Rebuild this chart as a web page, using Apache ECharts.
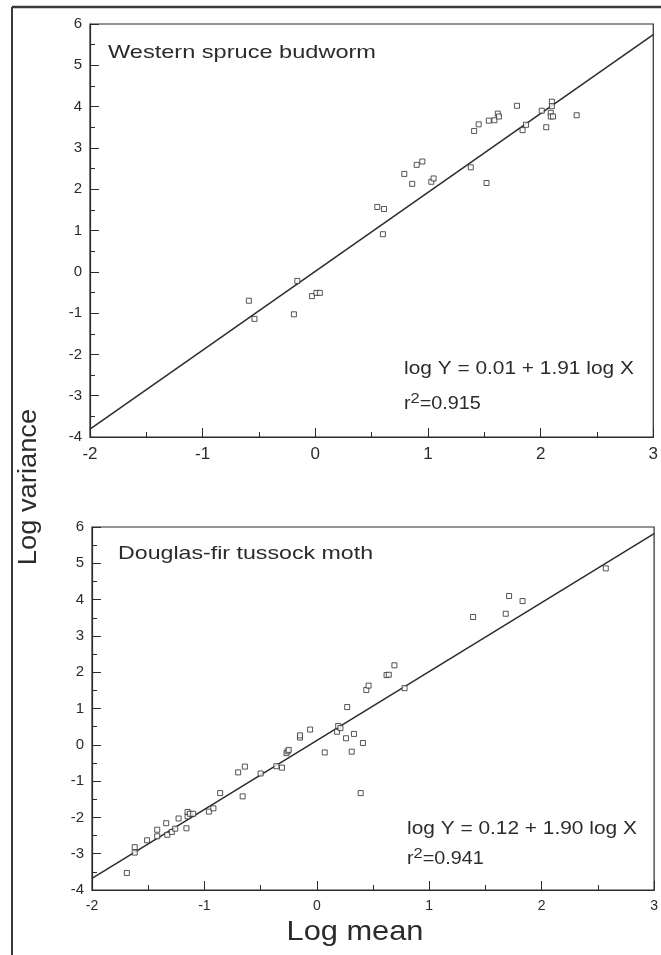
<!DOCTYPE html>
<html>
<head>
<meta charset="utf-8">
<script src="https://cdn.jsdelivr.net/npm/echarts@6/dist/echarts.min.js"></script>
<style>
  html, body {margin: 0; padding: 0; background: #fff;}
  #chart {width: 661px; height: 955px;}
</style>
</head>
<body>
<div id="chart"></div>
<script>
// western spruce budworm (top panel)
const budwormX = [-0.59, -0.54, -0.19, -0.16, -0.03, 0.01, 0.04, 0.55, 0.61, 0.60, 0.79, 0.86, 0.90, 0.95, 1.03, 1.05,
  1.38, 1.41, 1.45, 1.52, 1.54, 1.59, 1.62, 1.63, 1.79, 1.84, 1.87, 2.01, 2.05, 2.10, 2.10, 2.09, 2.09, 2.11, 2.32];
const budwormY = [-0.70, -1.14, -1.03, -0.22, -0.59, -0.51, -0.51, 1.57, 1.52, 0.91, 2.37, 2.13, 2.59, 2.67, 2.18, 2.26,
  2.53, 3.41, 3.57, 2.15, 3.66, 3.67, 3.83, 3.76, 4.02, 3.43, 3.56, 3.90, 3.50, 4.12, 4.01, 3.85, 3.76, 3.76, 3.79];

// douglas-fir tussock moth (bottom panel)
const mothX = [-1.69, -1.62, -1.62, -1.51, -1.42, -1.42, -1.34, -1.33, -1.29, -1.26, -1.23, -1.16, -1.15, -1.15, -1.13,
  -1.10, -0.96, -0.92, -0.86, -0.70, -0.66, -0.64, -0.50, -0.36, -0.31, -0.27, -0.26, -0.25, -0.15, -0.15, -0.06, 0.07,
  0.18, 0.19, 0.21, 0.26, 0.27, 0.31, 0.33, 0.39, 0.41, 0.44, 0.46, 0.62, 0.64, 0.69, 0.78, 1.39, 1.68, 1.71, 1.83, 2.57];
const mothY = [-3.53, -2.82, -2.97, -2.63, -2.34, -2.52, -2.16, -2.48, -2.40, -2.31, -2.03, -2.30, -1.97, -1.85, -1.90,
  -1.90, -1.84, -1.75, -1.33, -0.76, -1.42, -0.60, -0.79, -0.59, -0.63, -0.23, -0.18, -0.14, 0.20, 0.26, 0.42, -0.21,
  0.36, 0.52, 0.46, 0.18, 1.04, -0.19, 0.30, -1.33, 0.05, 1.51, 1.63, 1.92, 1.93, 2.19, 1.56, 3.52, 3.61, 4.10, 3.96, 4.86];

// fitted lines: log Y = a + b log X
const panelNames = ['Western spruce budworm', 'Douglas-fir tussock moth'];
const intercepts = [0.01, 0.12];
const slopes = [1.91, 1.90];
const rSquared = ['0.915', '0.941'];

const xRange = [-2, 3];
const yRange = [-4, 6];

const ink = '#2b2b2b';
const font = '"Liberation Sans", Arial, Helvetica, sans-serif';

let chart = echarts.init(document.getElementById('chart'), null, {renderer: 'canvas'});

const pairs = (xs, ys) => xs.map((x, i) => [x, ys[i]]);
const fitLine = i => xRange.map(x => [x, +(intercepts[i] + slopes[i] * x).toFixed(3)]);

const axisCommon = {
  type: 'value',
  interval: 1,
  axisLine: {show: true, onZero: false, lineStyle: {color: ink, width: 1.2}},
  axisTick: {show: true, inside: true, length: 9, lineStyle: {color: ink, width: 1}},
  minorTick: {show: true, splitNumber: 2, length: 5, lineStyle: {color: ink, width: 1}},
  splitLine: {show: false},
  minorSplitLine: {show: false}
};

const xAxisFor = (gi, size) => Object.assign({}, axisCommon, {
  gridIndex: gi,
  min: xRange[0], max: xRange[1],
  axisLabel: {color: ink, fontFamily: font, fontSize: size, margin: 9}
});

const yAxisFor = (gi, size) => Object.assign({}, axisCommon, {
  gridIndex: gi,
  min: yRange[0], max: yRange[1],
  axisLabel: {color: ink, fontFamily: font, fontSize: size, margin: 8}
});

const scatterFor = (gi, data) => ({
  type: 'scatter',
  xAxisIndex: gi, yAxisIndex: gi,
  symbol: 'rect',
  symbolSize: 5,
  itemStyle: {color: '#fff', borderColor: ink, borderWidth: 1},
  data: data,
  z: 3
});

const lineFor = gi => ({
  type: 'line',
  xAxisIndex: gi, yAxisIndex: gi,
  symbol: 'none',
  lineStyle: {color: ink, width: 1.5},
  data: fitLine(gi),
  z: 2
});

// scanned lettering is wider than Helvetica, so stretch it a little
const txt = (x, y, text, size, sx, extra) => ({
  type: 'text', x: x, y: y, scaleX: sx,
  style: Object.assign({text: text, fill: ink, font: size + 'px ' + font, verticalAlign: 'middle'}, extra || {})
});

const eqText = i => 'log Y = ' + intercepts[i].toFixed(2) + ' + ' + slopes[i].toFixed(2) + ' log X';
const r2Text = i => ({
  text: 'r{s|2}=' + rSquared[i],
  rich: {s: {fontSize: 15, fontFamily: font, fill: ink, verticalAlign: 'top', padding: [0, 0, 10, 0]}}
});

let option = {
  backgroundColor: '#fff',
  animation: false,
  grid: [
    {left: 90, top: 24, width: 564, height: 413, show: true, borderColor: ink, borderWidth: 1.2},
    {left: 92, top: 527, width: 565, height: 363, show: true, borderColor: ink, borderWidth: 1.2}
  ],
  xAxis: [xAxisFor(0, 17), xAxisFor(1, 14)],
  yAxis: [yAxisFor(0, 15), yAxisFor(1, 15)],
  series: [
    lineFor(0),
    scatterFor(0, pairs(budwormX, budwormY)),
    lineFor(1),
    scatterFor(1, pairs(mothX, mothY))
  ],
  graphic: [
    // outer frame of the figure
    {type: 'line', shape: {x1: 12, y1: 7, x2: 661, y2: 7}, style: {stroke: '#3a3a3a', lineWidth: 2.5}},
    {type: 'line', shape: {x1: 12, y1: 7, x2: 12, y2: 955}, style: {stroke: '#3a3a3a', lineWidth: 2}},
    {
      type: 'text', x: 29, y: 487, rotation: Math.PI / 2, scaleX: 1.05,
      style: {text: 'Log variance', fill: ink, font: '26px ' + font, align: 'center', verticalAlign: 'middle'}
    },
    txt(108, 53, panelNames[0], 19, 1.24),
    txt(118, 554, panelNames[1], 19, 1.22),
    txt(404, 369, eqText(0), 18, 1.16),
    txt(407, 829, eqText(1), 18, 1.16),
    txt(404, 404, '', 18, 1.1, r2Text(0)),
    txt(407, 859, '', 18, 1.1, r2Text(1)),
    txt(355, 932, 'Log mean', 28, 1.1, {align: 'center'})
  ]
};

if (option && typeof option === 'object') {
  chart.setOption(option, false);
}
</script>
</body>
</html>
